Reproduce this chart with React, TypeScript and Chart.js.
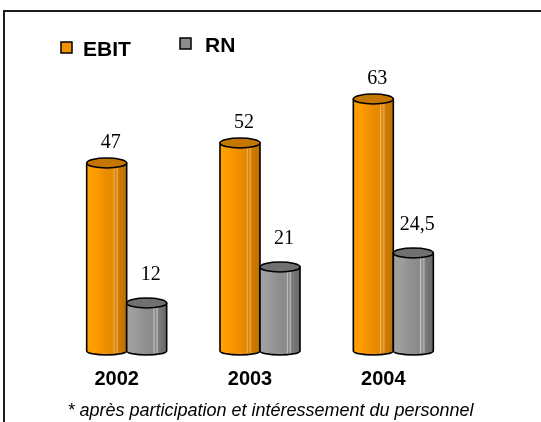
import React, { useEffect, useRef } from "react";
import { Chart, registerables } from "chart.js";

Chart.register(...registerables);

// ---- data ----
const categories = ["2002", "2003", "2004"];
const seriesNames = ["EBIT", "RN"];
const ebitValues = [47, 52, 63];
const rnValues = [12, 21, 24.5];
const footnote = "* après participation et intéressement du personnel";

// ---- styles ----
const baseColors = ["#F39200", "#8C8C8C"];
const capColors = ["#C47600", "#707070"];
const gradientStops: [number, string][][] = [
  [
    [0, "#FFA000"],
    [0.2, "#FF9C00"],
    [0.45, "#EE8F00"],
    [0.66, "#E38800"],
    [0.68, "#F6B860"],
    [0.71, "#DC8400"],
    [0.77, "#E9A448"],
    [0.79, "#D17D00"],
    [1, "#BC6F00"],
  ],
  [
    [0, "#A2A2A2"],
    [0.2, "#9C9C9C"],
    [0.45, "#8F8F8F"],
    [0.66, "#8A8A8A"],
    [0.68, "#CACACA"],
    [0.71, "#868686"],
    [0.77, "#B4B4B4"],
    [0.79, "#7C7C7C"],
    [1, "#686868"],
  ],
];
const labelLift = [15, 23];
const legendLayout = [
  { boxX: 61, boxY: 42, textX: 83, textY: 50 },
  { boxX: 180, boxY: 38, textX: 205, textY: 46 },
];

const fmt = (v: number) => String(v).replace(".", ",");

const cylinderPlugin = {
  id: "cylinders",
  afterDatasetsDraw(chart: any) {
    const ctx: CanvasRenderingContext2D = chart.ctx;
    chart.data.datasets.forEach((_ds: any, di: number) => {
      const meta = chart.getDatasetMeta(di);
      meta.data.forEach((bar: any) => {
        const { x, y, base, width } = bar.getProps(["x", "y", "base", "width"], true);
        const l = x - width / 2;
        const r = x + width / 2;
        const g = ctx.createLinearGradient(l, 0, r, 0);
        gradientStops[di].forEach(([o, c]) => g.addColorStop(o, c));
        ctx.save();
        ctx.lineWidth = 1.6;
        ctx.strokeStyle = "#000";
        ctx.lineJoin = "round";
        ctx.beginPath();
        ctx.moveTo(l, y);
        ctx.lineTo(l, base);
        ctx.ellipse(x, base, width / 2, 4, 0, Math.PI, 0, true);
        ctx.lineTo(r, y);
        ctx.closePath();
        ctx.fillStyle = g;
        ctx.fill();
        ctx.stroke();
        ctx.beginPath();
        ctx.ellipse(x, y, width / 2, 5, 0, 0, Math.PI * 2);
        ctx.fillStyle = capColors[di];
        ctx.fill();
        ctx.stroke();
        ctx.restore();
      });
    });
  },
};

const valueLabelPlugin = {
  id: "valueLabels",
  afterDatasetsDraw(chart: any) {
    const ctx: CanvasRenderingContext2D = chart.ctx;
    ctx.save();
    ctx.font = '20px "Liberation Serif", "Times New Roman", serif';
    ctx.fillStyle = "#000";
    ctx.textAlign = "center";
    ctx.textBaseline = "alphabetic";
    chart.data.datasets.forEach((ds: any, di: number) => {
      const meta = chart.getDatasetMeta(di);
      meta.data.forEach((bar: any, i: number) => {
        const { x, y } = bar.getProps(["x", "y"], true);
        ctx.fillText(fmt(ds.data[i]), x + 4, y - labelLift[di]);
      });
    });
    ctx.restore();
  },
};

const legendPlugin = {
  id: "customLegend",
  afterDraw(chart: any) {
    const ctx: CanvasRenderingContext2D = chart.ctx;
    ctx.save();
    ctx.font = 'bold 21px "Liberation Sans", Arial, sans-serif';
    ctx.textAlign = "left";
    ctx.textBaseline = "middle";
    chart.data.datasets.forEach((ds: any, di: number) => {
      const p = legendLayout[di];
      ctx.fillStyle = ds.backgroundColor;
      ctx.fillRect(p.boxX, p.boxY, 11, 11);
      ctx.lineWidth = 1.5;
      ctx.strokeStyle = "#000";
      ctx.strokeRect(p.boxX, p.boxY, 11, 11);
      ctx.fillStyle = "#000";
      ctx.fillText(ds.label, p.textX, p.textY);
    });
    ctx.restore();
  },
};

export default function App() {
  const ref = useRef<HTMLCanvasElement>(null);

  useEffect(() => {
    if (!ref.current) return;
    const chart = new Chart(ref.current, {
      type: "bar",
      data: {
        labels: categories,
        datasets: [
          {
            label: seriesNames[0],
            data: ebitValues,
            backgroundColor: baseColors[0],
            borderWidth: 0,
            categoryPercentage: 0.6,
            barPercentage: 1.0,
          },
          {
            label: seriesNames[1],
            data: rnValues,
            backgroundColor: baseColors[1],
            borderWidth: 0,
            categoryPercentage: 0.6,
            barPercentage: 1.0,
          },
        ],
      },
      options: {
        responsive: false,
        animation: false,
        devicePixelRatio: 1,
        layout: { padding: { top: 71, left: 0, right: 0, bottom: 0 } },
        plugins: {
          legend: { display: false },
          tooltip: { enabled: false },
          title: {
            display: true,
            position: "bottom",
            text: footnote,
            color: "#000",
            font: { family: '"Liberation Sans", Arial, sans-serif', size: 18, style: "italic", weight: "normal" },
            padding: { top: -6.6, bottom: 0 },
          },
        },
        scales: {
          x: {
            grid: { display: false, drawTicks: false },
            border: { display: false },
            ticks: {
              color: "#000",
              padding: 16.6,
              labelOffset: -10,
              font: { family: '"Liberation Sans", Arial, sans-serif', size: 20, weight: "bold", lineHeight: 1.14 },
            },
          },
          y: {
            position: "left",
            min: 0,
            max: 70,
            grid: { display: false, drawTicks: false },
            border: { display: false },
            ticks: { display: false },
            afterFit: (s: any) => {
              s.width = 60;
            },
          },
          yR: {
            type: "linear",
            position: "right",
            display: true,
            grid: { display: false, drawTicks: false },
            border: { display: false },
            ticks: { display: false },
            afterFit: (s: any) => {
              s.width = 81;
            },
          },
        },
      } as any,
      plugins: [cylinderPlugin, valueLabelPlugin, legendPlugin],
    });
    return () => chart.destroy();
  }, []);

  return (
    <div
      style={{
        position: "fixed",
        left: 0,
        top: 0,
        width: 541,
        height: 422,
        overflow: "hidden",
        background: "#fff",
      }}
    >
      <div
        style={{
          position: "absolute",
          left: 3,
          top: 10,
          width: 700,
          height: 700,
          borderLeft: "2px solid #1c1c1c",
          borderTop: "2px solid #1c1c1c",
        }}
      />
      <canvas
        ref={ref}
        width={541}
        height={422}
        style={{ position: "absolute", left: 0, top: 0, width: 541, height: 422 }}
      />
    </div>
  );
}
